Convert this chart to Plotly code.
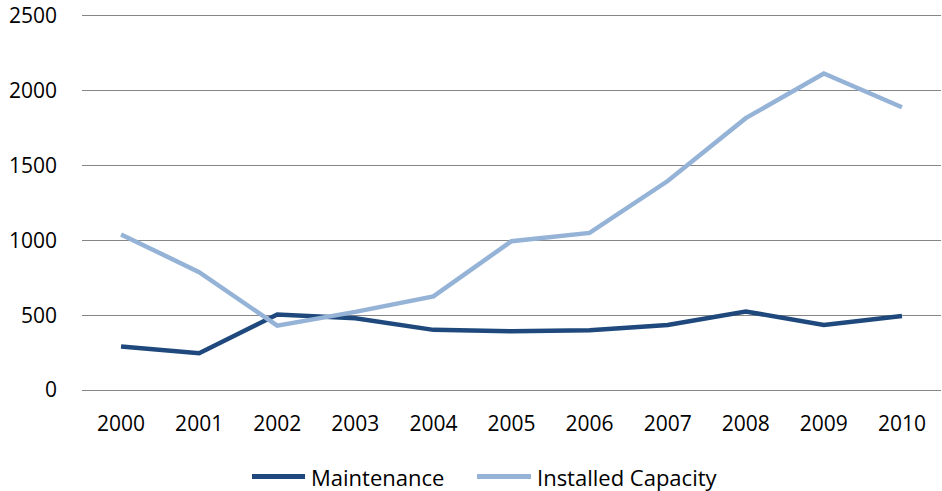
import plotly.graph_objects as go

years = ["2000", "2001", "2002", "2003", "2004", "2005",
         "2006", "2007", "2008", "2009", "2010"]
maintenance = [290, 246, 505, 480, 402, 392, 400, 434, 525, 435, 495]
installed_capacity = [1040, 788, 430, 522, 626, 995, 1050, 1397, 1817, 2116, 1890]
y_ticks = [0, 500, 1000, 1500, 2000, 2500]

FONT = "Open Sans"
GRID = "#868686"
COLORS = {"Maintenance": "#1F497D", "Installed Capacity": "#95B3D7"}

W, H = 942, 491
L, R, T, B = 82, 1, 11, 101
PW, PH = W - L - R, H - T - B
# a little headroom above the top tick so its gridline is not clipped at the edge
Y_TOP = y_ticks[-1] * PH / (H - B - 14)


def px_x(x):
    return (x - L) / PW


def px_y(y):
    return (H - B - y) / PH


fig = go.Figure()
for name, values in (("Maintenance", maintenance),
                     ("Installed Capacity", installed_capacity)):
    fig.add_trace(go.Scatter(
        x=years, y=values, name=name, mode="lines",
        line=dict(color=COLORS[name], width=4.5),
        showlegend=False,
    ))

# legend row below the axis: sample line + label per series
legend_items = [("Maintenance", 252, 305, 309), ("Installed Capacity", 477, 531, 535)]
legend_y = 477
shapes, annotations = [], []
for name, x0, x1, tx in legend_items:
    shapes.append(dict(
        type="line", xref="paper", yref="paper",
        x0=px_x(x0), x1=px_x(x1), y0=px_y(legend_y), y1=px_y(legend_y),
        line=dict(color=COLORS[name], width=5),
    ))
    annotations.append(dict(
        text=name, xref="paper", yref="paper",
        x=px_x(tx), y=px_y(legend_y), xanchor="left", yanchor="middle",
        showarrow=False, font=dict(family=FONT, size=22, color="#000000"),
    ))

fig.update_layout(
    width=W, height=H,
    margin=dict(l=L, r=R, t=T, b=B),
    paper_bgcolor="white", plot_bgcolor="white",
    font=dict(family=FONT, size=21, color="#000000"),
    shapes=shapes, annotations=annotations,
    xaxis=dict(
        type="category", range=[-0.5, 10.5],
        showgrid=False, showline=True, linecolor=GRID, linewidth=1,
        ticks="", ticklabelstandoff=15,
        tickfont=dict(family=FONT, size=21),
    ),
    yaxis=dict(
        range=[0, Y_TOP], tickmode="array", tickvals=y_ticks,
        ticktext=[str(v) for v in y_ticks],
        showgrid=True, gridcolor=GRID, gridwidth=1,
        zeroline=False, showline=False,
        ticks="", ticklabelstandoff=24, ticklabeloverflow="allow",
        tickfont=dict(family=FONT, size=21),
    ),
)

fig.write_html("out.html")
